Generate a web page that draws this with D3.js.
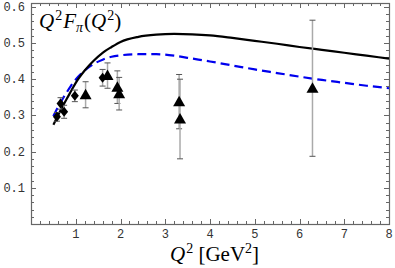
<!DOCTYPE html>
<html>
<head>
<meta charset="utf-8">
<script src="https://cdn.jsdelivr.net/npm/d3@7"></script>
<style>
  body { margin: 0; background: #fff; }
  svg { display: block; }
</style>
</head>
<body>
<div class="svg-container"></div>
<script>
// curves (Q^2 in GeV^2)
var curveQ2 = [0.5, 0.6, 0.7, 0.8, 0.9, 1.0, 1.2, 1.4, 1.6, 1.8, 2.0, 2.4, 2.8, 3.2, 3.6, 4.0, 4.5, 5.0, 5.5, 6.0, 6.5, 7.0, 7.5, 8.0];
var solidVals = [0.274, 0.299, 0.323, 0.346, 0.368, 0.390, 0.424, 0.451, 0.473, 0.489, 0.503, 0.517, 0.523, 0.525, 0.524, 0.521, 0.514, 0.506, 0.498, 0.489, 0.481, 0.473, 0.465, 0.457];
var dashedVals = [0.298, 0.322, 0.344, 0.364, 0.383, 0.399, 0.424, 0.442, 0.454, 0.462, 0.466, 0.469, 0.469, 0.465, 0.457, 0.449, 0.438, 0.427, 0.417, 0.407, 0.398, 0.390, 0.382, 0.375];

// data points
var diamondQ2 = [0.58, 0.66, 0.74, 0.98, 1.60];
var diamondF = [0.296, 0.333, 0.310, 0.354, 0.404];
var diamondErr = [0.012, 0.016, 0.018, 0.016, 0.023];

var triangleQ2 = [1.22, 1.71, 1.93, 1.97, 3.31, 3.33, 6.29];
var triangleF = [0.357, 0.410, 0.378, 0.360, 0.338, 0.290, 0.375];
var triangleErr = [0.036, 0.035, 0.045, 0.045, 0.075, 0.110, 0.188];

var xTicks = [1, 2, 3, 4, 5, 6, 7, 8];
var yTicks = [0.1, 0.2, 0.3, 0.4, 0.5, 0.6];

var width = 395, height = 268;
var plotL = 31, plotR = 389, plotT = 3, plotB = 224;

var svg = d3.select('.svg-container').append('svg')
  .attr('width', width)
  .attr('height', height);

var x = d3.scaleLinear().domain([0, 8]).range([plotL, plotR]);
var y = d3.scaleLinear().domain([0, 0.6105]).range([plotB, plotT]);

var axisColor = '#666';

// minor + major ticks, inward on all four sides
var xMinor = d3.range(0, 8.01, 0.2);
var yMinor = d3.range(0, 0.61, 0.02);
function isMajorX(v) { return Math.abs(v - Math.round(v)) < 1e-6; }
function isMajorY(v) { return Math.abs(v * 10 - Math.round(v * 10)) < 1e-6; }

var ticks = svg.append('g').attr('stroke', axisColor).attr('stroke-width', 1);
xMinor.forEach(function(v) {
  var len = isMajorX(v) ? 5 : 3;
  var px = Math.round(x(v)) + 0.5;
  ticks.append('line').attr('x1', px).attr('x2', px).attr('y1', plotB).attr('y2', plotB - len);
  ticks.append('line').attr('x1', px).attr('x2', px).attr('y1', plotT).attr('y2', plotT + len);
});
yMinor.forEach(function(v) {
  var len = isMajorY(v) ? 5 : 3;
  var py = Math.round(y(v)) + 0.5;
  ticks.append('line').attr('y1', py).attr('y2', py).attr('x1', plotL).attr('x2', plotL + len);
  ticks.append('line').attr('y1', py).attr('y2', py).attr('x1', plotR).attr('x2', plotR - len);
});

svg.append('rect')
  .attr('x', plotL + 0.5).attr('y', plotT + 0.5)
  .attr('width', plotR - plotL).attr('height', plotB - plotT)
  .attr('fill', 'none').attr('stroke', axisColor).attr('stroke-width', 1.2);

// tick labels
svg.append('g').selectAll('text').data(xTicks).enter().append('text')
  .attr('x', function(d) { return x(d); })
  .attr('y', plotB + 14)
  .attr('text-anchor', 'middle')
  .attr('font-family', 'Liberation Mono, DejaVu Sans Mono, monospace')
  .attr('font-size', 12)
  .attr('fill', '#333')
  .text(function(d) { return d; });

svg.append('g').selectAll('text').data(yTicks).enter().append('text')
  .attr('x', plotL - 6)
  .attr('y', function(d) { return y(d) + 4; })
  .attr('text-anchor', 'end')
  .attr('font-family', 'Liberation Mono, DejaVu Sans Mono, monospace')
  .attr('font-size', 12)
  .attr('fill', '#333')
  .text(function(d) { return d.toFixed(1); });

// curves
var line = d3.line()
  .x(function(d) { return x(d[0]); })
  .y(function(d) { return y(d[1]); })
  .curve(d3.curveMonotoneX);

svg.append('path')
  .datum(curveQ2.map(function(q, i) { return [q, dashedVals[i]]; }))
  .attr('d', line)
  .attr('fill', 'none')
  .attr('stroke', '#0000ee')
  .attr('stroke-width', 2.2)
  .attr('stroke-dasharray', '9,5');

svg.append('path')
  .datum(curveQ2.map(function(q, i) { return [q, solidVals[i]]; }))
  .attr('d', line)
  .attr('fill', 'none')
  .attr('stroke', '#000')
  .attr('stroke-width', 2.2);

// error bars
function drawErrors(qs, fs, es) {
  var g = svg.append('g');
  qs.forEach(function(q, i) {
    var px = x(q);
    g.append('line')
      .attr('x1', px).attr('x2', px)
      .attr('y1', y(fs[i] + es[i])).attr('y2', y(fs[i] - es[i]))
      .attr('stroke', '#aaa').attr('stroke-width', 1.5);
    [fs[i] + es[i], fs[i] - es[i]].forEach(function(v) {
      g.append('line')
        .attr('x1', px - 3).attr('x2', px + 3)
        .attr('y1', y(v)).attr('y2', y(v))
        .attr('stroke', '#555').attr('stroke-width', 1);
    });
  });
}
drawErrors(diamondQ2, diamondF, diamondErr);
drawErrors(triangleQ2, triangleF, triangleErr);

// markers
svg.append('g').selectAll('path').data(diamondQ2).enter().append('path')
  .attr('transform', function(d, i) { return 'translate(' + x(d) + ',' + y(diamondF[i]) + ')'; })
  .attr('d', 'M0,-5L4,0L0,5L-4,0Z')
  .attr('fill', '#000');

svg.append('g').selectAll('path').data(triangleQ2).enter().append('path')
  .attr('transform', function(d, i) { return 'translate(' + x(d) + ',' + y(triangleF[i]) + ')'; })
  .attr('d', 'M0,-6L6,4.5L-6,4.5Z')
  .attr('fill', '#000');

// title and axis label
var title = svg.append('text')
  .attr('x', 39).attr('y', 28)
  .attr('font-family', 'Liberation Serif, DejaVu Serif, serif')
  .attr('font-size', 21)
  .attr('fill', '#000');
title.append('tspan').attr('font-style', 'italic').text('Q');
title.append('tspan').attr('font-size', 14).attr('dx', 1).attr('dy', -8).text('2');
title.append('tspan').attr('font-style', 'italic').attr('dx', 1).attr('dy', 8).text('F');
title.append('tspan').attr('font-style', 'italic').attr('font-size', 14).attr('dy', 4).text('π');
title.append('tspan').attr('dx', 1).attr('dy', -4).text('(');
title.append('tspan').attr('font-style', 'italic').text('Q');
title.append('tspan').attr('font-size', 14).attr('dx', 1).attr('dy', -8).text('2');
title.append('tspan').attr('dy', 8).text(')');

var xlab = svg.append('text')
  .attr('x', 170).attr('y', 261)
  .attr('font-family', 'Liberation Serif, DejaVu Serif, serif')
  .attr('font-size', 21)
  .attr('fill', '#000');
xlab.append('tspan').attr('font-style', 'italic').text('Q');
xlab.append('tspan').attr('font-size', 14).attr('dx', 1).attr('dy', -8).text('2');
xlab.append('tspan').attr('dy', 8).text('\u00a0[GeV');
xlab.append('tspan').attr('font-size', 14).attr('dy', -8).text('2');
xlab.append('tspan').attr('dy', 8).text(']');
</script>
</body>
</html>
